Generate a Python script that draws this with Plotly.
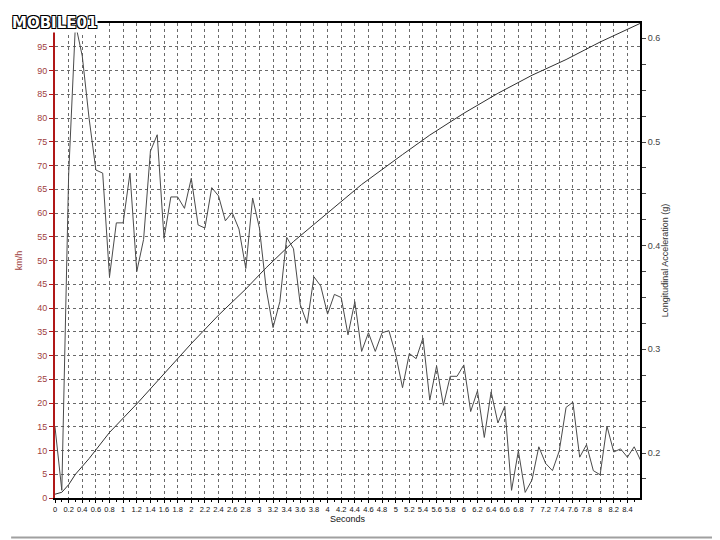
import plotly.graph_objects as go

# Time axis for acceleration samples (seconds, 0.1 s step)
accel_time = [round(i * 0.1, 1) for i in range(87)]
# Longitudinal acceleration (g)
accel_g = [0.225, 0.164, 0.468, 0.614, 0.583, 0.523, 0.473, 0.470, 0.370, 0.422,
           0.422, 0.470, 0.375, 0.406, 0.491, 0.507, 0.407, 0.447, 0.447, 0.436,
           0.465, 0.420, 0.417, 0.456, 0.448, 0.424, 0.432, 0.416, 0.378, 0.446,
           0.417, 0.358, 0.321, 0.346, 0.408, 0.397, 0.343, 0.325, 0.370, 0.361,
           0.334, 0.353, 0.350, 0.314, 0.346, 0.298, 0.316, 0.298, 0.316, 0.318,
           0.295, 0.263, 0.296, 0.291, 0.311, 0.251, 0.284, 0.246, 0.274, 0.274,
           0.285, 0.240, 0.260, 0.215, 0.259, 0.229, 0.245, 0.164, 0.202, 0.162,
           0.174, 0.206, 0.190, 0.183, 0.202, 0.244, 0.249, 0.196, 0.208, 0.183,
           0.179, 0.226, 0.201, 0.204, 0.196, 0.206, 0.192]

# Speed (km/h)
speed_time = [0, 0.1, 0.2, 0.3, 0.5, 0.8, 1.2, 1.6, 2.0, 2.4, 2.8, 3.1, 3.5,
              4.0, 4.5, 5.1, 5.5, 6.0, 6.5, 7.0, 7.5, 8.0, 8.6]
speed_kmh = [0.8, 1.2, 2.8, 5.0, 8.3, 13.8, 19.8, 26.2, 32.5, 38.5, 44.0, 48.5, 54.0,
             60.0, 66.0, 72.3, 76.4, 81.0, 85.2, 89.0, 92.3, 96.0, 100.0]

x_ticks = [round(i * 0.2, 1) for i in range(43)]
x_ticktext = [("%g" % v) for v in x_ticks]
y_ticks = list(range(0, 101, 5))
y2_ticks = [0.2, 0.3, 0.4, 0.5, 0.6]

FONT = "Liberation Sans, Arial, sans-serif"
RED = "#b01818"
GRID = "#6a6a6a"

fig = go.Figure()
fig.add_trace(go.Scatter(x=accel_time, y=accel_g, mode="lines", yaxis="y2",
                         line=dict(color="#4a4a4a", width=1), showlegend=False))
fig.add_trace(go.Scatter(x=speed_time, y=speed_kmh, mode="lines", yaxis="y",
                         line=dict(color="#303030", width=1), showlegend=False))

# page body has an 8px default margin -> figure is 712x532 so it fits the window
fig.update_layout(
    width=712, height=532,
    margin=dict(l=44, r=80, t=10, b=42),
    paper_bgcolor="white", plot_bgcolor="white",
    font=dict(family=FONT, size=9, color="#222"),
    xaxis=dict(range=[0, 8.585], tickvals=x_ticks, ticktext=x_ticktext, tickangle=0,
               showgrid=True, gridcolor=GRID, griddash="3px,3px", gridwidth=1,
               showline=True, linecolor="black", linewidth=2, mirror=True,
               ticks="outside", ticklen=3, tickcolor="black",
               minor=dict(dtick=0.1, tick0=0, ticks="outside", ticklen=2, tickcolor="black", showgrid=False),
               tickfont=dict(size=7.5, color="#111"), zeroline=False,
               title=dict(text="Seconds", font=dict(size=9, color="#111"), standoff=3)),
    yaxis=dict(range=[0, 100], tickvals=y_ticks,
               showgrid=True, gridcolor=GRID, griddash="3px,3px", gridwidth=1,
               showline=True, linecolor=RED, linewidth=2,
               ticks="outside", ticklen=4, tickcolor=RED,
               tickfont=dict(size=9, color="#a04040"), zeroline=False,
               title=dict(text="km/h", font=dict(size=9, color="#a04040"), standoff=8)),
    yaxis2=dict(range=[0.1566, 0.6148], overlaying="y", side="right",
                tickvals=y2_ticks, ticktext=["0.2", "0.3", "0.4", "0.5", "0.6"],
                showgrid=False, showline=True, linecolor="black", linewidth=2,
                ticks="outside", ticklen=4, tickcolor="#444",
                minor=dict(dtick=0.025, tick0=0.2, ticks="outside", ticklen=4, tickcolor="#444"),
                tickfont=dict(size=9, color="#444"), zeroline=False,
                title=dict(text="Longitudinal Acceleration (g)", font=dict(size=9, color="#333"), standoff=2)),
    shapes=[
        dict(type="line", xref="paper", yref="paper", x0=-0.075, x1=1.1293, y0=-0.0833, y1=-0.0833,
             line=dict(color="#a0a0a0", width=2)),
        dict(type="line", xref="paper", yref="paper", x0=1.1293, x1=1.1293, y0=-0.0833, y1=1.02,
             line=dict(color="#a0a0a0", width=2)),
    ],
    annotations=[
        dict(text="<b>MOBILE01</b>", xref="paper", yref="paper", x=-0.0748, y=1.0208,
             xanchor="left", yanchor="top", showarrow=False, bgcolor="white",
             font=dict(family="DejaVu Sans, sans-serif", size=15, color="white",
                       shadow="1px 1px 0 #000, -1px -1px 0 #000, 1px -1px 0 #000, -1px 1px 0 #000"),
             borderpad=0),
    ],
)

fig.write_html("out.html")
